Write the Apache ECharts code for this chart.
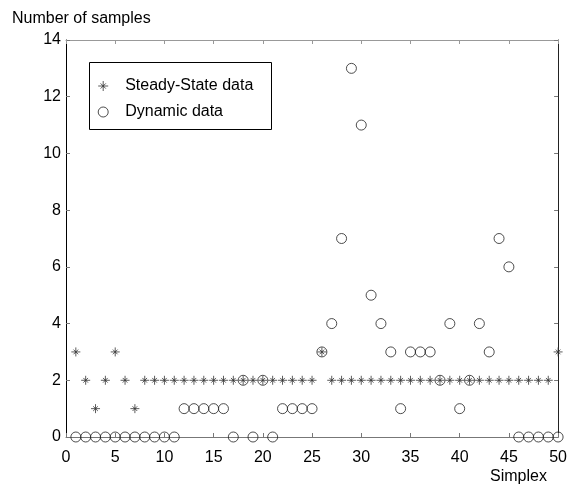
<!DOCTYPE html>
<html>
<head>
<meta charset="utf-8">
<script src="https://cdn.jsdelivr.net/npm/echarts@6/dist/echarts.min.js"></script>
<style>
  html, body { margin: 0; padding: 0; background: #fff; }
  #chart { width: 570px; height: 484px; }
</style>
</head>
<body>
<div id="chart"></div>
<script>
// Simplex index (x) and number of samples collected per simplex (y)
const simplex = [1, 2, 3, 4, 5, 6, 7, 8, 9, 10,
                 11, 12, 13, 14, 15, 16, 17, 18, 19, 20,
                 21, 22, 23, 24, 25, 26, 27, 28, 29, 30,
                 31, 32, 33, 34, 35, 36, 37, 38, 39, 40,
                 41, 42, 43, 44, 45, 46, 47, 48, 49, 50];
const steadyState = [3, 2, 1, 2, 3, 2, 1, 2, 2, 2,
                     2, 2, 2, 2, 2, 2, 2, 2, 2, 2,
                     2, 2, 2, 2, 2, 3, 2, 2, 2, 2,
                     2, 2, 2, 2, 2, 2, 2, 2, 2, 2,
                     2, 2, 2, 2, 2, 2, 2, 2, 2, 3];
const dynamic = [0, 0, 0, 0, 0, 0, 0, 0, 0, 0,
                 0, 1, 1, 1, 1, 1, 0, 2, 0, 2,
                 0, 1, 1, 1, 1, 3, 4, 7, 13, 11,
                 5, 4, 3, 1, 3, 3, 3, 2, 4, 1,
                 2, 4, 3, 7, 6, 0, 0, 0, 0, 0];
const seriesNames = ['Steady-State data', 'Dynamic data'];
const xRange = [0, 50], xStep = 5;
const yRange = [0, 14], yStep = 2;

const FONT = '"Liberation Sans", Arial, Helvetica, sans-serif';
// asterisk marker: plus sign with a short cross through its centre
const STAR = 'path://M0,-5L0,5M-5,0L5,0M-2.6,-2.6L2.6,2.6M-2.6,2.6L2.6,-2.6';

const pairs = (ys) => simplex.map((x, i) => [x, ys[i]]);

function axisX(position, showLabels, color) {
  return {
    type: 'value', position: position, min: xRange[0], max: xRange[1], interval: xStep,
    axisLine: { show: true, onZero: false, lineStyle: { color: color, width: 1 } },
    axisTick: { show: true, inside: true, length: 4, lineStyle: { color: color } },
    axisLabel: { show: showLabels, color: '#000', fontSize: 16, fontFamily: FONT, margin: 13 },
    splitLine: { show: false }
  };
}
function axisY(position, showLabels, color) {
  return {
    type: 'value', position: position, min: yRange[0], max: yRange[1], interval: yStep,
    axisLine: { show: true, onZero: false, lineStyle: { color: color, width: 1 } },
    axisTick: { show: true, inside: true, length: 4, lineStyle: { color: '#777' } },
    axisLabel: { show: showLabels, color: '#000', fontSize: 16, fontFamily: FONT, margin: 5 },
    splitLine: { show: false }
  };
}

const chart = echarts.init(document.getElementById('chart'), null, { renderer: 'canvas' });
chart.setOption({
  animation: false,
  backgroundColor: '#fff',
  grid: { left: 66, right: 10, top: 40, bottom: 47, containLabel: false },
  xAxis: [axisX('bottom', true, '#777'), axisX('top', false, '#999')],
  yAxis: [axisY('left', true, '#000'), axisY('right', false, '#222')],
  graphic: [
    { type: 'rect', z: 3, shape: { x: 89.5, y: 62.5, width: 182, height: 67 },
      style: { fill: '#fff', stroke: '#000', lineWidth: 1 } },
    { type: 'text', left: 12, top: 11,
      style: { text: 'Number of samples', font: '16px ' + FONT, fill: '#000' } },
    { type: 'text', left: 490, top: 469,
      style: { text: 'Simplex', font: '16px ' + FONT, fill: '#000' } }
  ],
  legend: {
    orient: 'vertical', left: 97.7, top: 78, padding: 0, itemGap: 10,
    itemWidth: 10, itemHeight: 10, z: 5,
    itemStyle: { borderWidth: 1 },
    textStyle: { fontSize: 16, fontFamily: FONT, color: '#000', padding: [0, 0, 0, 12] },
    data: seriesNames
  },
  series: [
    {
      name: seriesNames[0], type: 'scatter', symbol: STAR, symbolSize: 9,
      itemStyle: { color: 'rgba(0,0,0,0)', borderColor: '#333', borderWidth: 1 },
      data: pairs(steadyState), clip: false, z: 2
    },
    {
      name: seriesNames[1], type: 'scatter', symbol: 'circle', symbolSize: 10,
      itemStyle: { color: 'rgba(0,0,0,0)', borderColor: '#222', borderWidth: 1 },
      data: pairs(dynamic), clip: false, z: 2
    }
  ]
});
</script>
</body>
</html>
